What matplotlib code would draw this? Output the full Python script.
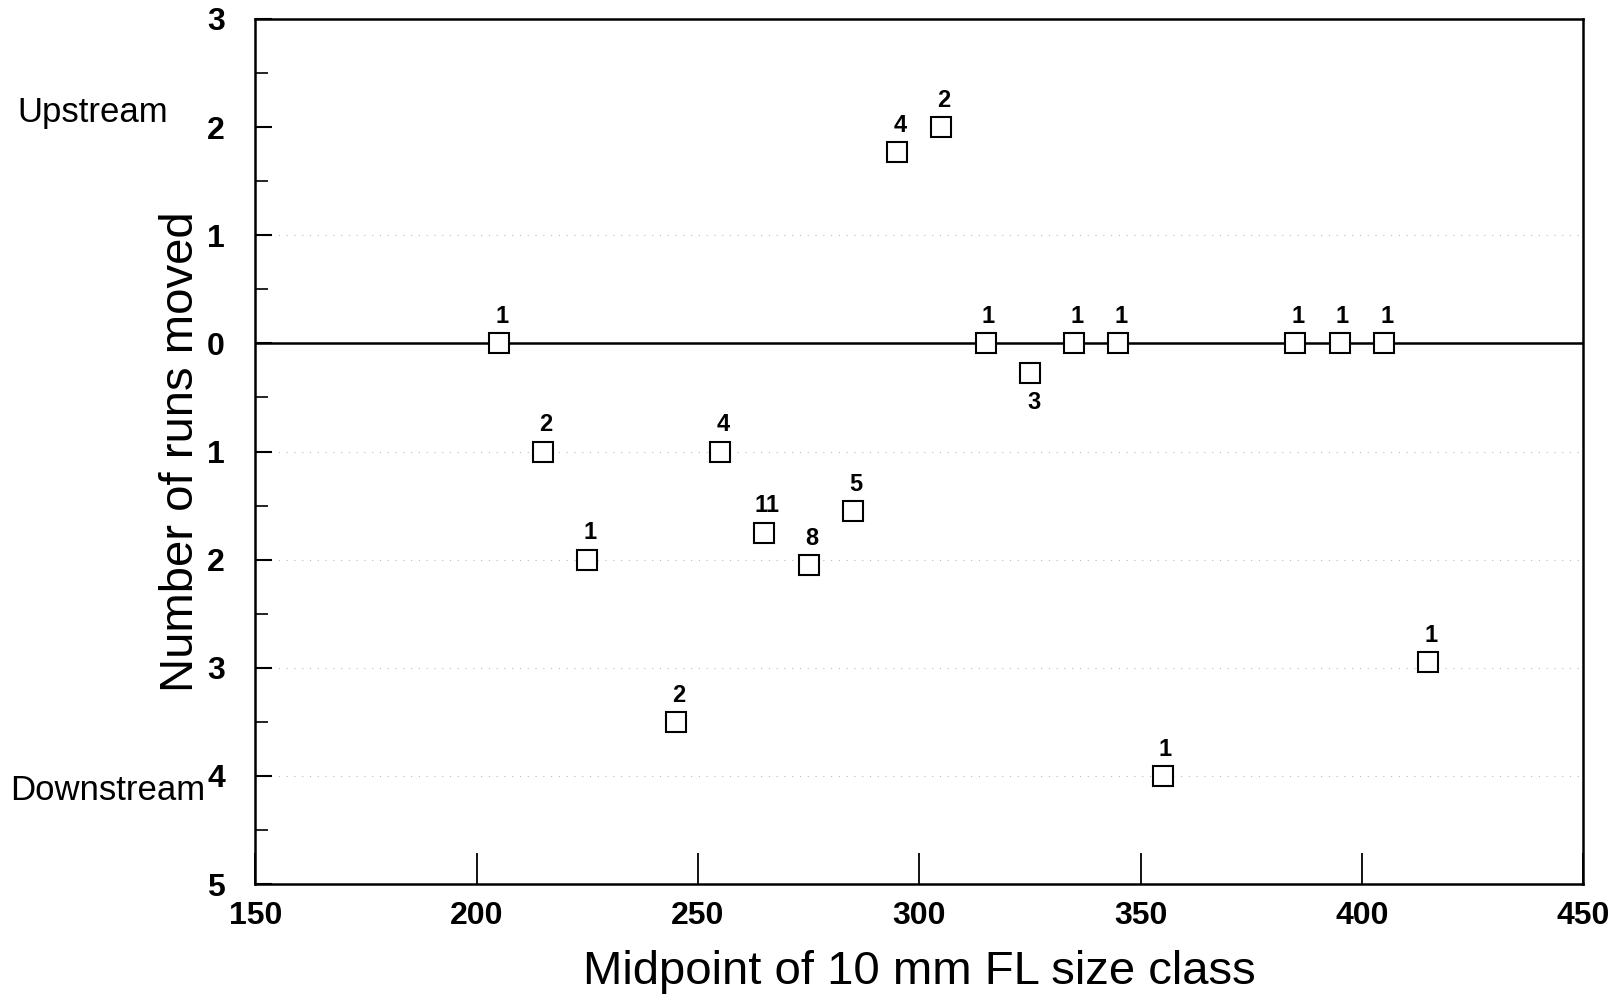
import numpy as np
import matplotlib
matplotlib.use("Agg")
import matplotlib.pyplot as plt

plt.rcParams['font.family'] = ['Liberation Sans', 'DejaVu Sans']

# midpoint of size class (mm FL), mean runs moved (+ upstream, - downstream), n fish
size_class = [205, 215, 225, 245, 255, 265, 275, 285, 295, 305, 315, 325, 335, 345, 355, 385, 395, 405, 415]
runs_moved = [0, -1, -2, -3.5, -1, -1.75, -2.05, -1.55, 1.77, 2.0, 0, -0.27, 0, 0, -4, 0, 0, 0, -2.95]
n_fish = [1, 2, 1, 2, 4, 11, 8, 5, 4, 2, 1, 3, 1, 1, 1, 1, 1, 1, 1]

y_ticks = [3, 2, 1, 0, -1, -2, -3, -4, -5]
y_ticklabels = ["3", "2", "1", "0", "1", "2", "3", "4", "5"]
x_ticks = [150, 200, 250, 300, 350, 400, 450]

fig = plt.figure(figsize=(16.17, 9.99), dpi=100)
ax = fig.add_axes([0.158, 0.115, 0.821, 0.866])

# faint dotted guide lines
for yy in [1, -1, -2, -3, -4]:
    ax.axhline(yy, color="#bbbbbb", linestyle=(0, (1, 6)), linewidth=0.8, zorder=0)
ax.axhline(0, color="black", linewidth=1.8, zorder=1)

ax.plot(size_class, runs_moved, linestyle="none", marker="s", markersize=14,
        markerfacecolor="white", markeredgecolor="black", markeredgewidth=1.5, zorder=3)

for xv, yv, n in zip(size_class, runs_moved, n_fish):
    if n == 3:
        ax.annotate(str(n), (xv, yv), xytext=(3, -13), textcoords="offset points",
                    ha="center", va="top", fontsize=17, fontweight="bold")
    else:
        ax.annotate(str(n), (xv, yv), xytext=(2, 11), textcoords="offset points",
                    ha="center", va="bottom", fontsize=17, fontweight="bold")

ax.set_xlim(150, 450)
ax.set_ylim(-5, 3)
ax.set_xticks(x_ticks)
ax.set_xticklabels([str(v) for v in x_ticks], fontsize=23, fontweight="bold")
ax.set_yticks(y_ticks)
ax.set_yticklabels(y_ticklabels, fontsize=23, fontweight="bold")
ax.set_yticks(np.arange(-4.5, 3, 1.0), minor=True)
ax.tick_params(axis="y", which="major", direction="in", length=12, width=1.5, pad=22)
ax.tick_params(axis="y", which="minor", direction="in", length=9, width=1.2)
ax.tick_params(axis="x", which="major", direction="in", length=22, width=1.3, pad=12)
for s in ax.spines.values():
    s.set_linewidth(1.8)

ax.set_xlabel("Midpoint of 10 mm FL size class", fontsize=34, labelpad=14)
ax.set_ylabel("Number of runs moved", fontsize=34, labelpad=3)

fig.text(0.011, 0.887, "Upstream", fontsize=25, va="center", ha="left")
fig.text(0.006, 0.209, "Downstream", fontsize=25, va="center", ha="left")

fig.savefig("out.png", dpi=100)
